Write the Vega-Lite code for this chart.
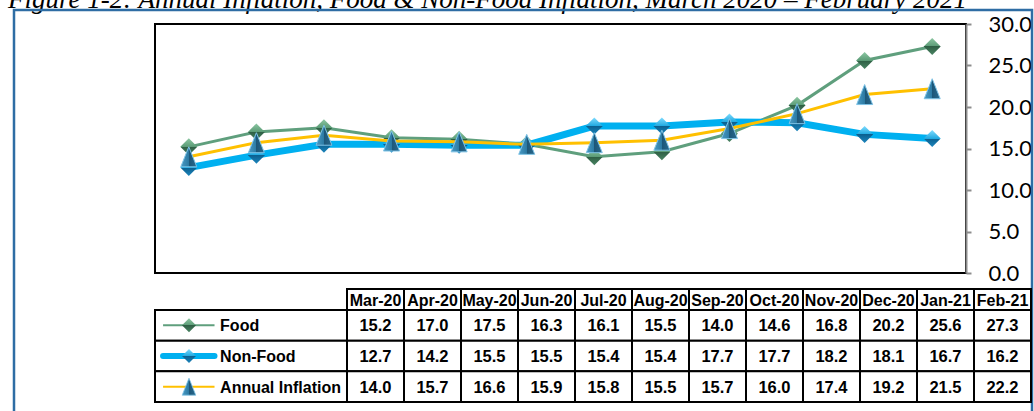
{
  "$schema": "https://vega.github.io/schema/vega-lite/v6.json",
  "width": 811,
  "height": 249,
  "autosize": {"type": "none"},
  "padding": {"left": 155, "top": 24, "right": 68, "bottom": 138},
  "background": "white",
  "config": {
    "view": {"stroke": "#000000", "strokeWidth": 2},
    "axis": {"grid": false}
  },
  "datasets": {
    "d": [
      {"month": "Mar-20", "series": "Food", "value": 15.2},
      {"month": "Apr-20", "series": "Food", "value": 17.0},
      {"month": "May-20", "series": "Food", "value": 17.5},
      {"month": "Jun-20", "series": "Food", "value": 16.3},
      {"month": "Jul-20", "series": "Food", "value": 16.1},
      {"month": "Aug-20", "series": "Food", "value": 15.5},
      {"month": "Sep-20", "series": "Food", "value": 14.0},
      {"month": "Oct-20", "series": "Food", "value": 14.6},
      {"month": "Nov-20", "series": "Food", "value": 16.8},
      {"month": "Dec-20", "series": "Food", "value": 20.2},
      {"month": "Jan-21", "series": "Food", "value": 25.6},
      {"month": "Feb-21", "series": "Food", "value": 27.3},
      {"month": "Mar-20", "series": "Non-Food", "value": 12.7},
      {"month": "Apr-20", "series": "Non-Food", "value": 14.2},
      {"month": "May-20", "series": "Non-Food", "value": 15.5},
      {"month": "Jun-20", "series": "Non-Food", "value": 15.5},
      {"month": "Jul-20", "series": "Non-Food", "value": 15.4},
      {"month": "Aug-20", "series": "Non-Food", "value": 15.4},
      {"month": "Sep-20", "series": "Non-Food", "value": 17.7},
      {"month": "Oct-20", "series": "Non-Food", "value": 17.7},
      {"month": "Nov-20", "series": "Non-Food", "value": 18.2},
      {"month": "Dec-20", "series": "Non-Food", "value": 18.1},
      {"month": "Jan-21", "series": "Non-Food", "value": 16.7},
      {"month": "Feb-21", "series": "Non-Food", "value": 16.2},
      {"month": "Mar-20", "series": "Annual Inflation", "value": 14.0},
      {"month": "Apr-20", "series": "Annual Inflation", "value": 15.7},
      {"month": "May-20", "series": "Annual Inflation", "value": 16.6},
      {"month": "Jun-20", "series": "Annual Inflation", "value": 15.9},
      {"month": "Jul-20", "series": "Annual Inflation", "value": 15.8},
      {"month": "Aug-20", "series": "Annual Inflation", "value": 15.5},
      {"month": "Sep-20", "series": "Annual Inflation", "value": 15.7},
      {"month": "Oct-20", "series": "Annual Inflation", "value": 16.0},
      {"month": "Nov-20", "series": "Annual Inflation", "value": 17.4},
      {"month": "Dec-20", "series": "Annual Inflation", "value": 19.2},
      {"month": "Jan-21", "series": "Annual Inflation", "value": 21.5},
      {"month": "Feb-21", "series": "Annual Inflation", "value": 22.2}
    ]
  },
  "resolve": {
    "scale": {"x": "independent", "y": "independent"},
    "axis": {"x": "independent", "y": "independent"}
  },
  "layer": [
    {
      "data": {"values": [{"title": "Figure 1-2: Annual Inflation, Food & Non-Food Inflation, March 2020 – February 2021"}]},
      "mark": {"type": "text", "font": "Liberation Serif", "fontSize": 27, "fontStyle": "italic", "color": "#000000", "align": "left", "baseline": "alphabetic"},
      "encoding": {
        "x": {"datum": 0, "type": "quantitative", "scale": {"domain": [0, 1], "range": [-147, 877]}, "axis": null},
        "y": {"datum": 0, "type": "quantitative", "scale": {"domain": [0, 1], "range": [-16, 400]}, "axis": null},
        "text": {"field": "title"}
      }
    },
    {
      "data": {"values": [{"part": "frame"}]},
      "mark": {"type": "rect", "fill": null, "stroke": "#2e6da4", "strokeWidth": 2.5},
      "encoding": {
        "x": {"datum": 0, "type": "quantitative", "scale": {"domain": [0, 1], "range": [-141, 877]}, "axis": null},
        "x2": {"datum": 1},
        "y": {"datum": 0, "type": "quantitative", "scale": {"domain": [0, 1], "range": [-14, 400]}, "axis": null},
        "y2": {"datum": 1}
      }
    },
    {
      "data": {"name": "d"},
      "transform": [{"filter": "datum.series === 'Food'"}],
      "mark": {"type": "rect", "fill": "#ffffff", "stroke": "#000000", "strokeWidth": 2},
      "encoding": {
        "x": {"field": "month", "type": "nominal", "sort": null, "scale": {"type": "band", "domain": ["Mar-20","Apr-20","May-20","Jun-20","Jul-20","Aug-20","Sep-20","Oct-20","Nov-20","Dec-20","Jan-21","Feb-21"], "range": [192, 876], "paddingInner": 0, "paddingOuter": 0}, "axis": null},
        "y": {"datum": 0, "type": "quantitative", "scale": {"domain": [0, 1], "range": [265, 286]}, "axis": null},
        "y2": {"datum": 1}
      }
    },
    {
      "data": {"name": "d"},
      "transform": [{"filter": "datum.series === 'Food'"}],
      "mark": {"type": "text", "font": "Liberation Sans", "fontSize": 16, "fontWeight": "bold", "color": "#000000", "align": "center", "baseline": "middle", "dy": 1},
      "encoding": {
        "x": {"field": "month", "type": "nominal", "sort": null, "scale": {"type": "band", "domain": ["Mar-20","Apr-20","May-20","Jun-20","Jul-20","Aug-20","Sep-20","Oct-20","Nov-20","Dec-20","Jan-21","Feb-21"], "range": [192, 876], "paddingInner": 0, "paddingOuter": 0}, "axis": null, "bandPosition": 0.5},
        "y": {"datum": 0.5, "type": "quantitative", "scale": {"domain": [0, 1], "range": [265, 286]}, "axis": null},
        "text": {"field": "month"}
      }
    },
    {
      "data": {"name": "d"},
      "mark": {"type": "rect", "fill": "#ffffff", "stroke": "#000000", "strokeWidth": 2},
      "encoding": {
        "x": {"field": "month", "type": "nominal", "sort": null, "scale": {"type": "band", "domain": ["Mar-20","Apr-20","May-20","Jun-20","Jul-20","Aug-20","Sep-20","Oct-20","Nov-20","Dec-20","Jan-21","Feb-21"], "range": [192, 876], "paddingInner": 0, "paddingOuter": 0}, "axis": null},
        "y": {"field": "series", "type": "nominal", "sort": null, "scale": {"type": "band", "domain": ["Food", "Non-Food", "Annual Inflation"], "range": [286, 378], "paddingInner": 0, "paddingOuter": 0}, "axis": null}
      }
    },
    {
      "data": {"name": "d"},
      "mark": {"type": "text", "font": "Liberation Sans", "fontSize": 16.5, "fontWeight": "bold", "color": "#000000", "align": "center", "baseline": "middle", "dy": 1},
      "encoding": {
        "x": {"field": "month", "type": "nominal", "sort": null, "scale": {"type": "band", "domain": ["Mar-20","Apr-20","May-20","Jun-20","Jul-20","Aug-20","Sep-20","Oct-20","Nov-20","Dec-20","Jan-21","Feb-21"], "range": [192, 876], "paddingInner": 0, "paddingOuter": 0}, "axis": null, "bandPosition": 0.5},
        "y": {"field": "series", "type": "nominal", "sort": null, "scale": {"type": "band", "domain": ["Food", "Non-Food", "Annual Inflation"], "range": [286, 378], "paddingInner": 0, "paddingOuter": 0}, "axis": null, "bandPosition": 0.5},
        "text": {"field": "value", "type": "quantitative", "format": ".1f"}
      }
    },
    {
      "data": {"name": "d"},
      "transform": [{"filter": "datum.month === 'Mar-20'"}],
      "mark": {"type": "rect", "fill": "#ffffff", "stroke": "#000000", "strokeWidth": 2},
      "encoding": {
        "x": {"datum": 0, "type": "quantitative", "scale": {"domain": [0, 1], "range": [0, 192]}, "axis": null},
        "x2": {"datum": 1},
        "y": {"field": "series", "type": "nominal", "sort": null, "scale": {"type": "band", "domain": ["Food", "Non-Food", "Annual Inflation"], "range": [286, 378], "paddingInner": 0, "paddingOuter": 0}, "axis": null}
      }
    },
    {
      "data": {"name": "d"},
      "transform": [{"filter": "datum.month === 'Mar-20' && datum.series === 'Food'"}],
      "mark": {"type": "rule", "color": "#5f9f7d", "strokeWidth": 2},
      "encoding": {
        "x": {"datum": 0.042, "type": "quantitative", "scale": {"domain": [0, 1], "range": [0, 192]}, "axis": null},
        "x2": {"datum": 0.31},
        "y": {"field": "series", "type": "nominal", "sort": null, "scale": {"type": "band", "domain": ["Food", "Non-Food", "Annual Inflation"], "range": [286, 378], "paddingInner": 0, "paddingOuter": 0}, "axis": null, "bandPosition": 0.5}
      }
    },
    {
      "data": {"name": "d"},
      "transform": [{"filter": "datum.month === 'Mar-20' && datum.series === 'Non-Food'"}],
      "mark": {"type": "rule", "color": "#00b0f0", "strokeWidth": 6, "strokeCap": "round"},
      "encoding": {
        "x": {"datum": 0.042, "type": "quantitative", "scale": {"domain": [0, 1], "range": [0, 192]}, "axis": null},
        "x2": {"datum": 0.31},
        "y": {"field": "series", "type": "nominal", "sort": null, "scale": {"type": "band", "domain": ["Food", "Non-Food", "Annual Inflation"], "range": [286, 378], "paddingInner": 0, "paddingOuter": 0}, "axis": null, "bandPosition": 0.5}
      }
    },
    {
      "data": {"name": "d"},
      "transform": [{"filter": "datum.month === 'Mar-20' && datum.series === 'Annual Inflation'"}],
      "mark": {"type": "rule", "color": "#ffc000", "strokeWidth": 2},
      "encoding": {
        "x": {"datum": 0.042, "type": "quantitative", "scale": {"domain": [0, 1], "range": [0, 192]}, "axis": null},
        "x2": {"datum": 0.31},
        "y": {"field": "series", "type": "nominal", "sort": null, "scale": {"type": "band", "domain": ["Food", "Non-Food", "Annual Inflation"], "range": [286, 378], "paddingInner": 0, "paddingOuter": 0}, "axis": null, "bandPosition": 0.5}
      }
    },
    {
      "data": {"name": "d"},
      "transform": [{"filter": "datum.month === 'Mar-20' && datum.series === 'Food'"}],
      "mark": {"type": "point", "shape": "diamond", "size": 196, "filled": true, "opacity": 1, "strokeWidth": 0,
        "fill": {"gradient": "linear", "x1": 0, "y1": 0, "x2": 0, "y2": 1, "stops": [{"offset": 0, "color": "#8cc7a2"}, {"offset": 0.5, "color": "#5b9b76"}, {"offset": 0.5, "color": "#2e5f44"}, {"offset": 1, "color": "#4a8463"}]}},
      "encoding": {
        "x": {"datum": 0.177, "type": "quantitative", "scale": {"domain": [0, 1], "range": [0, 192]}, "axis": null},
        "y": {"field": "series", "type": "nominal", "sort": null, "scale": {"type": "band", "domain": ["Food", "Non-Food", "Annual Inflation"], "range": [286, 378], "paddingInner": 0, "paddingOuter": 0}, "axis": null, "bandPosition": 0.5}
      }
    },
    {
      "data": {"name": "d"},
      "transform": [{"filter": "datum.month === 'Mar-20' && datum.series === 'Non-Food'"}],
      "mark": {"type": "point", "shape": "diamond", "size": 196, "filled": true, "opacity": 1, "strokeWidth": 0,
        "fill": {"gradient": "linear", "x1": 0, "y1": 0, "x2": 0, "y2": 1, "stops": [{"offset": 0, "color": "#7fdcff"}, {"offset": 0.5, "color": "#20a8e0"}, {"offset": 0.5, "color": "#0a5f8f"}, {"offset": 1, "color": "#1d86bd"}]}},
      "encoding": {
        "x": {"datum": 0.177, "type": "quantitative", "scale": {"domain": [0, 1], "range": [0, 192]}, "axis": null},
        "y": {"field": "series", "type": "nominal", "sort": null, "scale": {"type": "band", "domain": ["Food", "Non-Food", "Annual Inflation"], "range": [286, 378], "paddingInner": 0, "paddingOuter": 0}, "axis": null, "bandPosition": 0.5}
      }
    },
    {
      "data": {"name": "d"},
      "transform": [{"filter": "datum.month === 'Mar-20' && datum.series === 'Annual Inflation'"}],
      "mark": {"type": "point", "shape": "M0,-1L0.8,1L-0.8,1Z", "size": 289, "filled": true, "opacity": 1, "stroke": "#7ec3e6", "strokeWidth": 0.8,
        "fill": {"gradient": "linear", "x1": 0, "y1": 0, "x2": 1, "y2": 0, "stops": [{"offset": 0, "color": "#4a9ac4"}, {"offset": 0.5, "color": "#2c7aa3"}, {"offset": 0.5, "color": "#1c5678"}, {"offset": 1, "color": "#2a6a8e"}]}},
      "encoding": {
        "x": {"datum": 0.177, "type": "quantitative", "scale": {"domain": [0, 1], "range": [0, 192]}, "axis": null},
        "y": {"field": "series", "type": "nominal", "sort": null, "scale": {"type": "band", "domain": ["Food", "Non-Food", "Annual Inflation"], "range": [286, 378], "paddingInner": 0, "paddingOuter": 0}, "axis": null, "bandPosition": 0.5}
      }
    },
    {
      "data": {"name": "d"},
      "transform": [{"filter": "datum.month === 'Mar-20'"}],
      "mark": {"type": "text", "font": "Liberation Sans", "fontSize": 16, "fontWeight": "bold", "color": "#000000", "align": "left", "baseline": "middle", "dy": 1},
      "encoding": {
        "x": {"datum": 0.339, "type": "quantitative", "scale": {"domain": [0, 1], "range": [0, 192]}, "axis": null},
        "y": {"field": "series", "type": "nominal", "sort": null, "scale": {"type": "band", "domain": ["Food", "Non-Food", "Annual Inflation"], "range": [286, 378], "paddingInner": 0, "paddingOuter": 0}, "axis": null, "bandPosition": 0.5},
        "text": {"field": "series"}
      }
    },
    {
      "data": {"name": "d"},
      "transform": [{"filter": "datum.series === 'Food'"}],
      "mark": {"type": "line", "color": "#5f9f7d", "strokeWidth": 3},
      "encoding": {
        "x": {"field": "month", "type": "nominal", "sort": null, "scale": {"type": "point", "domain": ["Mar-20","Apr-20","May-20","Jun-20","Jul-20","Aug-20","Sep-20","Oct-20","Nov-20","Dec-20","Jan-21","Feb-21"], "padding": 0.5}, "axis": null},
        "y": {"field": "value", "type": "quantitative", "scale": {"domain": [0, 30], "nice": false, "zero": true},
          "axis": {"orient": "right", "values": [0, 5, 10, 15, 20, 25, 30], "format": ".1f", "title": null, "grid": false,
            "labelFont": "Lato", "labelFontSize": 22, "labelColor": "#000000", "labelPadding": 17,
            "domainColor": "#8c8c8c", "domainWidth": 2, "tickColor": "#8c8c8c", "tickWidth": 2, "tickSize": 5}}
      }
    },
    {
      "data": {"name": "d"},
      "transform": [{"filter": "datum.series === 'Food'"}],
      "mark": {"type": "point", "shape": "diamond", "size": 289, "filled": true, "opacity": 1, "strokeWidth": 0,
        "fill": {"gradient": "linear", "x1": 0, "y1": 0, "x2": 0, "y2": 1, "stops": [{"offset": 0, "color": "#8cc7a2"}, {"offset": 0.5, "color": "#5b9b76"}, {"offset": 0.5, "color": "#2e5f44"}, {"offset": 1, "color": "#4a8463"}]}},
      "encoding": {
        "x": {"field": "month", "type": "nominal", "sort": null, "scale": {"type": "point", "domain": ["Mar-20","Apr-20","May-20","Jun-20","Jul-20","Aug-20","Sep-20","Oct-20","Nov-20","Dec-20","Jan-21","Feb-21"], "padding": 0.5}, "axis": null},
        "y": {"field": "value", "type": "quantitative", "scale": {"domain": [0, 30], "nice": false, "zero": true}, "axis": null}
      }
    },
    {
      "data": {"name": "d"},
      "transform": [{"filter": "datum.series === 'Non-Food'"}],
      "mark": {"type": "line", "color": "#00b0f0", "strokeWidth": 7},
      "encoding": {
        "x": {"field": "month", "type": "nominal", "sort": null, "scale": {"type": "point", "domain": ["Mar-20","Apr-20","May-20","Jun-20","Jul-20","Aug-20","Sep-20","Oct-20","Nov-20","Dec-20","Jan-21","Feb-21"], "padding": 0.5}, "axis": null},
        "y": {"field": "value", "type": "quantitative", "scale": {"domain": [0, 30], "nice": false, "zero": true}, "axis": null}
      }
    },
    {
      "data": {"name": "d"},
      "transform": [{"filter": "datum.series === 'Non-Food'"}],
      "mark": {"type": "point", "shape": "diamond", "size": 289, "filled": true, "opacity": 1, "strokeWidth": 0,
        "fill": {"gradient": "linear", "x1": 0, "y1": 0, "x2": 0, "y2": 1, "stops": [{"offset": 0, "color": "#7fdcff"}, {"offset": 0.5, "color": "#20a8e0"}, {"offset": 0.5, "color": "#0a5f8f"}, {"offset": 1, "color": "#1d86bd"}]}},
      "encoding": {
        "x": {"field": "month", "type": "nominal", "sort": null, "scale": {"type": "point", "domain": ["Mar-20","Apr-20","May-20","Jun-20","Jul-20","Aug-20","Sep-20","Oct-20","Nov-20","Dec-20","Jan-21","Feb-21"], "padding": 0.5}, "axis": null},
        "y": {"field": "value", "type": "quantitative", "scale": {"domain": [0, 30], "nice": false, "zero": true}, "axis": null}
      }
    },
    {
      "data": {"name": "d"},
      "transform": [{"filter": "datum.series === 'Annual Inflation'"}],
      "mark": {"type": "line", "color": "#ffc000", "strokeWidth": 3},
      "encoding": {
        "x": {"field": "month", "type": "nominal", "sort": null, "scale": {"type": "point", "domain": ["Mar-20","Apr-20","May-20","Jun-20","Jul-20","Aug-20","Sep-20","Oct-20","Nov-20","Dec-20","Jan-21","Feb-21"], "padding": 0.5}, "axis": null},
        "y": {"field": "value", "type": "quantitative", "scale": {"domain": [0, 30], "nice": false, "zero": true}, "axis": null}
      }
    },
    {
      "data": {"name": "d"},
      "transform": [{"filter": "datum.series === 'Annual Inflation'"}],
      "mark": {"type": "point", "shape": "M0,-1L0.8,1L-0.8,1Z", "size": 400, "filled": true, "opacity": 1, "stroke": "#7ec3e6", "strokeWidth": 1,
        "fill": {"gradient": "linear", "x1": 0, "y1": 0, "x2": 1, "y2": 0, "stops": [{"offset": 0, "color": "#4a9ac4"}, {"offset": 0.5, "color": "#2c7aa3"}, {"offset": 0.5, "color": "#1c5678"}, {"offset": 1, "color": "#2a6a8e"}]}},
      "encoding": {
        "x": {"field": "month", "type": "nominal", "sort": null, "scale": {"type": "point", "domain": ["Mar-20","Apr-20","May-20","Jun-20","Jul-20","Aug-20","Sep-20","Oct-20","Nov-20","Dec-20","Jan-21","Feb-21"], "padding": 0.5}, "axis": null},
        "y": {"field": "value", "type": "quantitative", "scale": {"domain": [0, 30], "nice": false, "zero": true}, "axis": null}
      }
    }
  ]
}
